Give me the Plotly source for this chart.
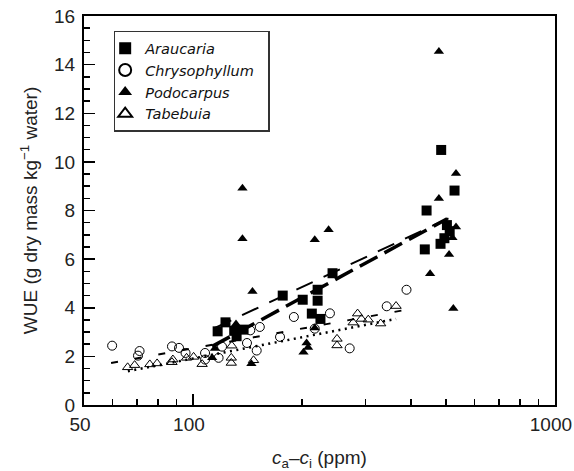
import plotly.graph_objects as go

# ---- data ----
araucaria_x = [117, 123, 130, 132, 138, 177, 201, 213, 221, 221, 225, 243, 437, 442, 483, 485, 495, 503, 512, 528]
araucaria_y = [3.03, 3.40, 3.05, 2.83, 3.10, 4.50, 4.33, 3.76, 4.74, 4.29, 3.54, 5.42, 6.40, 8.00, 6.63, 10.49, 6.86, 7.40, 7.15, 8.82]

chrysophyllum_x = [59.8, 70.5, 71.2, 87.5, 91.5, 95.4, 108, 108, 117.7, 120.3, 141, 144, 150, 153, 174, 190, 217, 239, 271, 343, 389]
chrysophyllum_y = [2.44, 2.03, 2.22, 2.41, 2.35, 2.14, 2.14, 1.87, 1.94, 2.40, 2.55, 3.07, 2.24, 3.21, 2.80, 3.62, 3.14, 3.77, 2.33, 4.06, 4.74]

podocarpus_x = [113, 115, 131.5, 137, 137, 145, 146, 202, 206, 208, 217, 217, 237, 452, 478, 478, 510, 521, 524, 533, 533]
podocarpus_y = [1.94, 2.32, 3.33, 8.92, 6.84, 1.70, 4.67, 2.17, 2.55, 2.37, 3.17, 6.80, 7.21, 5.40, 14.54, 8.49, 6.19, 6.88, 3.97, 9.52, 7.32]

tabebuia_x = [66, 69, 76, 79.6, 87.5, 88, 96, 100.4, 106, 127.6, 127.6, 128, 147, 250, 250, 277, 285, 292, 305, 330, 364]
tabebuia_y = [1.55, 1.64, 1.67, 1.71, 1.76, 1.87, 1.94, 1.98, 1.68, 1.94, 1.73, 2.44, 1.84, 2.72, 2.45, 3.39, 3.76, 3.54, 3.51, 3.35, 4.07]

# regression line end points
araucaria_fit_x = [113, 504]
araucaria_fit_y = [2.41, 7.66]
podocarpus_fit_x = [115, 515]
podocarpus_fit_y = [3.17, 7.72]
chrysophyllum_fit_x = [59.4, 389]
chrysophyllum_fit_y = [1.73, 3.92]
tabebuia_fit_x = [66.1, 364]
tabebuia_fit_y = [1.39, 3.54]

x_tickvals = [50, 100, 1000]
x_ticktext = ["50", "100", "1000"]
x_minor = [60, 70, 80, 90, 200, 300, 400, 500, 600, 700, 800, 900]

FONT = "Liberation Sans, Arial, Helvetica, sans-serif"
LEGEND_FONT = "DejaVu Sans, Liberation Sans, Arial, sans-serif"

fig = go.Figure()

# fit lines (no legend)
fig.add_trace(go.Scatter(x=araucaria_fit_x, y=araucaria_fit_y, mode="lines", showlegend=False,
                         line=dict(color="black", width=3.5, dash="20px,8px")))
fig.add_trace(go.Scatter(x=podocarpus_fit_x, y=podocarpus_fit_y, mode="lines", showlegend=False,
                         line=dict(color="black", width=2, dash="18px,12px")))
fig.add_trace(go.Scatter(x=chrysophyllum_fit_x, y=chrysophyllum_fit_y, mode="lines", showlegend=False,
                         line=dict(color="black", width=2, dash="7px,17px")))
fig.add_trace(go.Scatter(x=tabebuia_fit_x, y=tabebuia_fit_y, mode="lines", showlegend=False,
                         line=dict(color="black", width=2.5, dash="2px,4.5px")))

# points
fig.add_trace(go.Scatter(x=araucaria_x, y=araucaria_y, mode="markers", name="<i>Araucaria</i>",
                         marker=dict(symbol="square", size=10, color="black", line=dict(width=0))))
fig.add_trace(go.Scatter(x=chrysophyllum_x, y=chrysophyllum_y, mode="markers", name="<i>Chrysophyllum</i>\u00a0\u00a0",
                         marker=dict(symbol="circle-open", size=9, color="black", line=dict(width=1))))
fig.add_trace(go.Scatter(x=podocarpus_x, y=podocarpus_y, mode="markers", name="<i>Podocarpus</i>",
                         marker=dict(symbol="triangle-up", size=9, color="black", line=dict(width=0))))
fig.add_trace(go.Scatter(x=tabebuia_x, y=tabebuia_y, mode="markers", name="<i>Tabebuia</i>",
                         marker=dict(symbol="triangle-up-open", size=9, color="black", line=dict(width=1))))

fig.update_layout(
    width=574, height=471,
    margin=dict(l=84, r=19, t=16, b=66, autoexpand=False),
    paper_bgcolor="white", plot_bgcolor="white",
    font=dict(family=FONT, size=19, color="#222"),
    showlegend=True,
    legend=dict(x=0.063, y=0.962, xanchor="left", yanchor="top",
                bordercolor="#333", borderwidth=1.5, bgcolor="white",
                font=dict(family=LEGEND_FONT, size=14.5, color="#111"),
                tracegroupgap=0, itemsizing="constant", indentation=-10),
    xaxis=dict(type="log", range=[1.69897, 3.0002], tickvals=x_tickvals, ticktext=x_ticktext,
               ticks="inside", ticklen=11, tickwidth=1.5, tickcolor="black",
               showline=True, linecolor="black", linewidth=2, mirror=True,
               showgrid=False, zeroline=False, ticklabelstandoff=1,
               ticklabeloverflow="allow", ticklabelshift=-4,
               minor=dict(tickvals=x_minor, ticks="inside", ticklen=6, tickwidth=1.5, tickcolor="black", showgrid=False),
               title=dict(text="<i>c</i><sub>a</sub>–<i>c</i><sub>i</sub> (ppm)", standoff=18,
                          font=dict(family=FONT, size=19))),
    yaxis=dict(range=[0, 16], dtick=2, tick0=0,
               ticks="inside", ticklen=11, tickwidth=1.5, tickcolor="black",
               showline=True, linecolor="black", linewidth=2, mirror=True,
               showgrid=False, zeroline=False, ticklabelstandoff=3,
               minor=dict(dtick=0.5, ticks="inside", ticklen=6, tickwidth=1.5, tickcolor="black", showgrid=False),
               title=dict(text="WUE (g dry mass kg<sup>−1</sup> water)", standoff=11,
                          font=dict(family=FONT, size=19))),
)

fig.write_html("out.html", config={"displayModeBar": False, "staticPlot": True},
               post_script="document.body.style.margin='0';document.body.style.overflow='hidden';")
